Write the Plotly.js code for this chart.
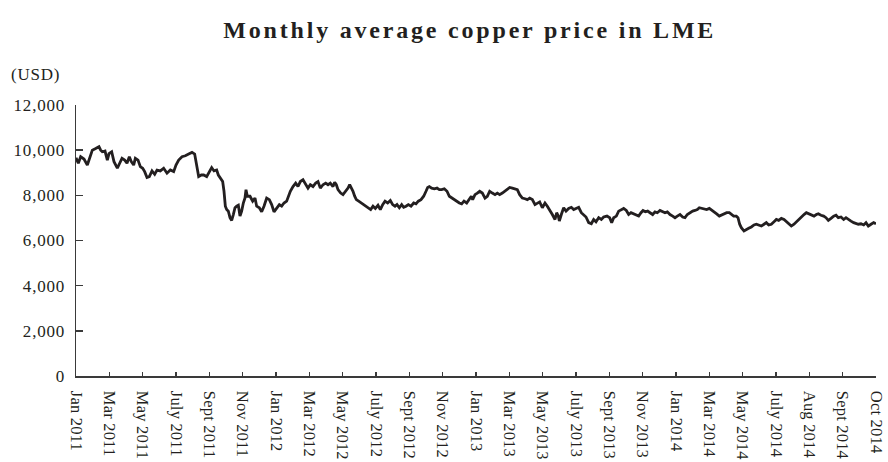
<!DOCTYPE html>
<html>
<head>
<meta charset="utf-8">
<script src="https://cdn.plot.ly/plotly-3.0.1.min.js"></script>
<style>
html,body{margin:0;padding:0;background:#fff;}
#chart{width:888px;height:462px;}
#chart .ytick text, #chart .annotation text{letter-spacing:0.8px;}
#chart .xtick text{letter-spacing:0.2px;}
#chart .gtitle{letter-spacing:2.8px !important;}
</style>
</head>
<body>
<div id="chart"></div>
<script>
// Tick labels along the x axis (position index 0..24)
const tickLabels = ['Jan 2011','Mar 2011','May 2011','July 2011','Sept 2011','Nov 2011','Jan 2012','Mar 2012','May 2012','July 2012','Sept 2012','Nov 2012','Jan 2013','Mar 2013','May 2013','July 2013','Sept 2013','Nov 2013','Jan 2014','Mar 2014','May 2014','July 2014','Aug 2014','Sept 2014','Oct 2014'];

// Position along the axis (in tick-index units) and price (USD)
const posA = [0.00,0.07,0.14,0.24,0.34,0.41,0.49,0.59,0.69,0.74,0.79,0.87,0.94,0.99,1.07,1.14,1.24,1.31,1.38,1.46,1.53,1.60,1.66,1.73,1.78,1.86,1.93,2.00,2.06,2.13,2.20,2.28,2.36,2.43,2.53,2.63,2.73,2.83,2.93,3.00,3.08,3.18,3.28,3.38,3.48,3.56,3.63,3.68,3.76];
const priceA = [9660,9420,9710,9610,9340,9640,10000,10070,10150,10000,9930,9960,9560,9850,9930,9490,9200,9420,9640,9560,9420,9710,9490,9340,9640,9560,9270,9200,9050,8790,8830,9080,8930,9120,9080,9200,8980,9120,9050,9340,9560,9710,9750,9830,9900,9830,9340,8830,8900];

const posB = [3.83,3.92,4.00,4.07,4.14,4.22,4.27,4.34,4.40,4.44,4.48,4.52,4.57,4.62,4.67,4.72,4.77,4.82,4.87,4.92,4.97,5.02,5.07,5.10,5.14,5.22,5.30,5.37,5.42,5.50,5.57,5.64,5.72,5.80,5.87,5.94,6.02,6.10,6.17,6.24,6.32,6.37,6.43,6.51,6.59,6.66,6.73,6.81,6.89,6.96,7.03,7.11,7.19,7.26,7.33,7.41,7.49,7.56,7.63,7.71,7.76,7.81];
const priceB = [8900,8830,9050,9230,9080,9120,8900,8760,8610,8180,7520,7370,7300,7010,6890,7150,7450,7520,7560,7080,7300,7660,7880,8250,7960,7960,7740,7880,7520,7450,7270,7520,7880,7810,7590,7270,7420,7590,7520,7660,7740,7960,8180,8390,8540,8390,8610,8690,8470,8320,8470,8390,8540,8610,8320,8470,8540,8470,8540,8390,8580,8470];

const posC = [7.86,7.94,8.01,8.08,8.16,8.21,8.26,8.31,8.36,8.41,8.48,8.56,8.64,8.71,8.78,8.84,8.91,8.98,9.06,9.13,9.20,9.27,9.35,9.43,9.50,9.57,9.63,9.70,9.77,9.83,9.90,9.97,10.05,10.13,10.20,10.27,10.35,10.43,10.50,10.55,10.60,10.67,10.75,10.83,10.90,10.97,11.05,11.13,11.20,11.27,11.35,11.43,11.50,11.57,11.64,11.72,11.79,11.86];
const priceC = [8250,8100,8030,8150,8320,8470,8350,8180,7960,7810,7740,7660,7590,7520,7450,7370,7520,7420,7560,7370,7590,7740,7660,7770,7590,7520,7590,7450,7590,7470,7520,7590,7520,7660,7620,7740,7810,7960,8180,8350,8390,8320,8290,8320,8250,8250,8290,8180,7960,7880,7810,7740,7660,7620,7740,7660,7810,7960];

const posD = [11.90,11.97,12.04,12.11,12.19,12.27,12.34,12.41,12.49,12.57,12.64,12.71,12.79,12.87,12.94,13.01,13.09,13.17,13.24,13.31,13.39,13.47,13.54,13.61,13.69,13.77,13.84,13.91,13.99,14.07,14.14,14.21,14.29,14.37,14.42,14.47,14.50,14.56,14.63,14.70,14.78,14.86,14.93,15.00,15.08,15.16,15.23,15.30,15.38,15.46,15.53,15.60,15.68,15.76,15.83,15.90];
const priceD = [7810,8030,8100,8180,8100,7880,7960,8180,8100,8030,8100,8030,8100,8180,8250,8350,8320,8290,8250,8030,7880,7850,7810,7880,7810,7590,7660,7710,7450,7660,7520,7370,7150,6930,7230,7080,6860,7150,7450,7300,7420,7470,7370,7420,7470,7230,7150,7040,6790,6740,6930,6830,7010,6930,7040,7080];

const posE = [15.93,16.01,16.07,16.13,16.21,16.28,16.35,16.43,16.51,16.58,16.65,16.73,16.81,16.88,16.95,17.01,17.08,17.15,17.22,17.30,17.37,17.44,17.52,17.60,17.67,17.74,17.82,17.90,17.97,18.04,18.12,18.20,18.27,18.34,18.42,18.50,18.57,18.64,18.70,18.77,18.84,18.92,19.00,19.07,19.14,19.22,19.30,19.37,19.44,19.52,19.60,19.67,19.73,19.81,19.86,19.91];
const priceE = [7080,7010,6790,7010,7080,7300,7370,7420,7330,7150,7230,7180,7120,7080,7230,7330,7270,7300,7230,7150,7270,7230,7330,7270,7230,7270,7150,7080,7010,7080,7150,7040,7010,7150,7230,7300,7330,7370,7450,7420,7370,7370,7420,7330,7270,7180,7080,7120,7180,7230,7230,7150,7080,7080,7010,6720];

const posF = [19.96,20.04,20.11,20.18,20.26,20.34,20.41,20.48,20.56,20.64,20.71,20.78,20.86,20.94,21.01,21.08,21.16,21.24,21.31,21.38,21.46,21.54,21.61,21.68,21.76,21.84,21.91,21.98,22.06,22.14,22.21,22.27,22.35,22.43,22.50,22.57,22.65,22.73,22.80,22.87,22.95,23.03,23.10,23.17,23.25,23.33,23.40,23.47,23.55,23.63,23.70,23.77,23.85,23.93,24.00];
const priceF = [6570,6420,6500,6540,6600,6690,6720,6690,6640,6720,6790,6690,6720,6830,6930,6890,6980,6930,6830,6740,6640,6720,6830,6930,7040,7150,7230,7180,7150,7080,7150,7180,7120,7080,7010,6890,6980,7080,7120,7010,7040,6930,7010,6930,6860,6790,6740,6720,6740,6690,6790,6640,6720,6790,6740];

const yTicks = [0,2000,4000,6000,8000,10000,12000];

const xs = [].concat(posA,posB,posC,posD,posE,posF);
const ys = [].concat(priceA,priceB,priceC,priceD,priceE,priceF);

const serif = '"Liberation Serif", "Times New Roman", serif';
const axisColor = '#3a3a3a';

const trace = {
  x: xs, y: ys, type: 'scatter', mode: 'lines',
  line: {color: '#231f20', width: 2.8},
  hoverinfo: 'skip'
};

const layout = {
  width: 888, height: 462,
  margin: {l: 76, r: 12, t: 105, b: 86},
  paper_bgcolor: '#fff', plot_bgcolor: '#fff',
  showlegend: false,
  font: {family: serif, color: '#231f20', size: 17},
  title: {
    text: '<b>Monthly average copper price in LME</b>',
    font: {family: serif, size: 24, color: '#231f20'},
    x: 0.529, xanchor: 'center', xref: 'container',
    y: 0.935, yanchor: 'middle', yref: 'container'
  },
  xaxis: {
    range: [0, 24],
    tickmode: 'array',
    tickvals: tickLabels.map((_, i) => i),
    ticktext: tickLabels,
    tickangle: 90,
    ticks: 'inside', ticklen: 4, tickwidth: 1.5, tickcolor: axisColor,
    showline: true, linecolor: axisColor, linewidth: 1.5,
    showgrid: false, zeroline: false,
    tickfont: {family: serif, size: 16.5, color: '#231f20'},
    ticklabelstandoff: 10,
    ticklabeloverflow: 'allow',
    fixedrange: true
  },
  yaxis: {
    range: [0, 12000],
    tickmode: 'array',
    tickvals: yTicks,
    tickformat: ',d',
    ticks: 'inside', ticklen: 7, tickwidth: 1.5, tickcolor: axisColor,
    showline: true, linecolor: axisColor, linewidth: 1.5,
    showgrid: false, zeroline: false,
    tickfont: {family: serif, size: 17, color: '#231f20'},
    ticklabelstandoff: 6,
    fixedrange: true
  },
  annotations: [{
    text: '(USD)', xref: 'paper', yref: 'paper',
    x: -0.081, y: 1.111, xanchor: 'left', yanchor: 'middle',
    showarrow: false,
    font: {family: serif, size: 17, color: '#231f20'}
  }]
};

Plotly.newPlot('chart', [trace], layout, {displayModeBar: false, staticPlot: true});
</script>
</body>
</html>
